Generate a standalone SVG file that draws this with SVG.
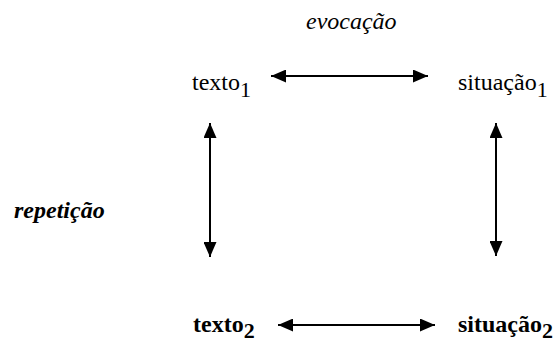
<svg xmlns="http://www.w3.org/2000/svg" width="560" height="339" viewBox="0 0 560 339">
<style>
text{font-family:"Liberation Serif","Times New Roman","DejaVu Serif",serif;font-size:24px;fill:#000}
.b{font-weight:bold}
.i{font-style:italic}
.sub{font-size:22px}
.c line{stroke:#000;stroke-width:2}
</style>
<defs>
<marker id="ah" viewBox="0 0 15 13" refX="15" refY="6.5" markerWidth="15" markerHeight="13" markerUnits="userSpaceOnUse" orient="auto-start-reverse">
<path d="M0,0 L15,6.5 L0,13 Z" fill="#000"/>
</marker>
</defs>
<rect width="560" height="339" fill="#fff"/>
<g id="texto1"><text x="192" y="90">texto<tspan class="sub" dy="7">1</tspan></text></g>
<g id="situacao1"><text x="458" y="90">situação<tspan class="sub" dy="7">1</tspan></text></g>
<g id="texto2"><text class="b" x="193" y="332">texto<tspan class="sub" dy="6">2</tspan></text></g>
<g id="situacao2"><text class="b" x="458" y="332">situação<tspan class="sub" dy="6">2</tspan></text></g>
<g id="connectors" class="c">
<line x1="271" y1="76" x2="428" y2="76" marker-start="url(#ah)" marker-end="url(#ah)"/>
<line x1="278" y1="325" x2="435" y2="325" marker-start="url(#ah)" marker-end="url(#ah)"/>
<line x1="210" y1="123" x2="210" y2="257" marker-start="url(#ah)" marker-end="url(#ah)"/>
<line x1="496" y1="123" x2="496" y2="256" marker-start="url(#ah)" marker-end="url(#ah)"/>
<text class="i" x="306" y="29">evocação</text>
<text class="b i" x="14" y="218">repetição</text>
</g>
</svg>
